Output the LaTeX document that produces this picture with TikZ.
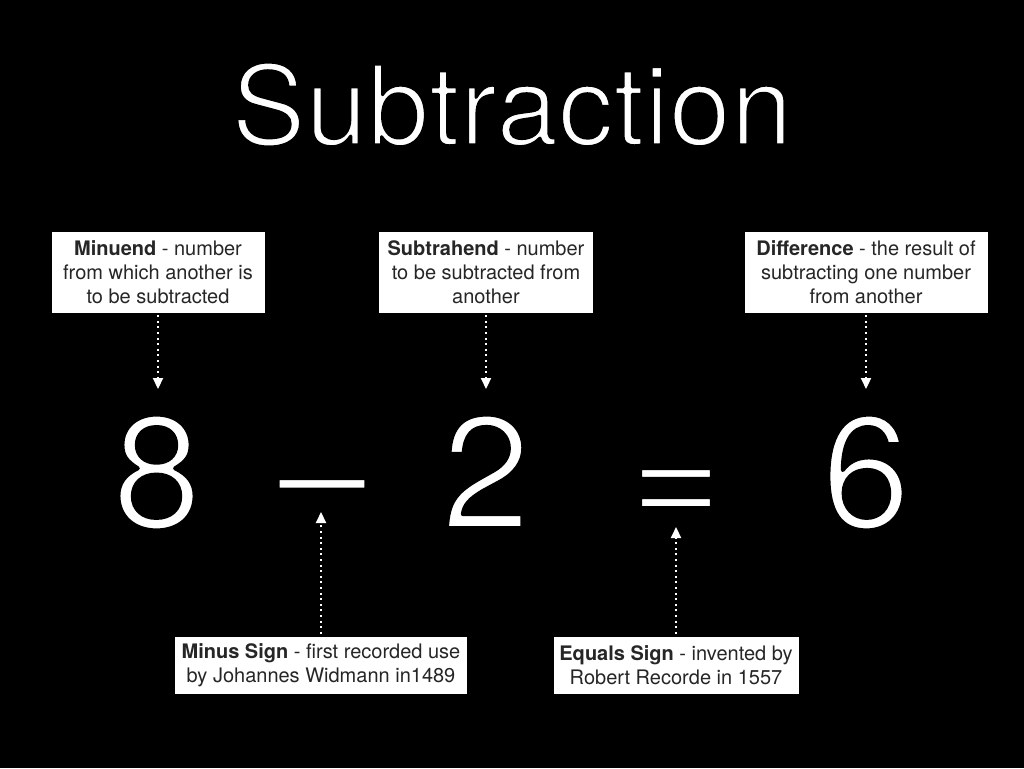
\documentclass[tikz,border=0pt]{standalone}
\usepackage{fontspec}
\setmainfont{TeX Gyre Heros}
\usetikzlibrary{arrows.meta}
% thin the big white glyphs: fill white, then stroke the outline in black
\newcommand{\thinglyph}[2]{\special{pdf:literal 2 Tr 0 G 1 j #1 w}#2\special{pdf:literal 0 Tr}}
\begin{document}
\begin{tikzpicture}[x=1pt,y=-1pt,
  infobox/.style={draw=white,fill=white,text=black!85,align=center,inner sep=0pt,
    font=\fontsize{20}{24}\selectfont,minimum height=#1},
  infobox/.default=80pt,
  pointer/.style={white,line width=2.2pt,dash pattern=on 2pt off 3.6pt,
    -{Triangle[width=10pt,length=11pt]}},
  glyph/.style={text=white,anchor=base,inner sep=0pt,font=\fontsize{160}{160}\selectfont}]
\fill[black] (0,0) rectangle (1024,768);
\useasboundingbox (0,0) rectangle (1024,768);
% title
\node[text=white,anchor=base,inner sep=0pt,font=\fontsize{111}{111}\selectfont] (title) at (512,145) {\thinglyph{3}{Subtraction}};
% equation
\node[glyph] (eight) at (157,528) {\thinglyph{4}{8}};
\node[glyph] (minus) at (322,528) {\thinglyph{4}{–}};
\node[glyph] (two) at (486,528) {\thinglyph{4}{2}};
\node[glyph] (equals) at (676,528) {\thinglyph{4}{=}};
\node[glyph] (six) at (866,528) {\thinglyph{4}{6}};
% boxes
\node[infobox,minimum width=212pt] (b1) at (158,272) {\textbf{Minuend} - number\\from which another is\\to be subtracted};
\node[infobox,minimum width=213pt] (b2) at (486,272) {\textbf{Subtrahend} - number\\to be subtracted from\\another};
\node[infobox,minimum width=242pt] (b3) at (866,272) {\textbf{Difference} - the result of\\subtracting one number\\from another};
\node[infobox=56pt,minimum width=291pt] (b4) at (321,665) {\textbf{Minus Sign} - first recorded use\\by Johannes Widmann in1489};
\node[infobox=56pt,minimum width=244pt] (b5) at (676,665) {\textbf{Equals Sign} - invented by\\Robert Recorde in 1557};
% pointer ends
\coordinate (p1) at (158,389);
\coordinate (p2) at (486,389);
\coordinate (p3) at (866,389);
\coordinate (p4) at (321,512);
\coordinate (p5) at (676,527);
\draw[pointer] ([yshift=-3pt]b1.south) -- (p1);
\draw[pointer] ([yshift=-3pt]b2.south) -- (p2);
\draw[pointer] ([yshift=-3pt]b3.south) -- (p3);
\draw[pointer] ([yshift=3pt]b4.north) -- (p4);
\draw[pointer] ([yshift=3pt]b5.north) -- (p5);
\end{tikzpicture}
\end{document}
